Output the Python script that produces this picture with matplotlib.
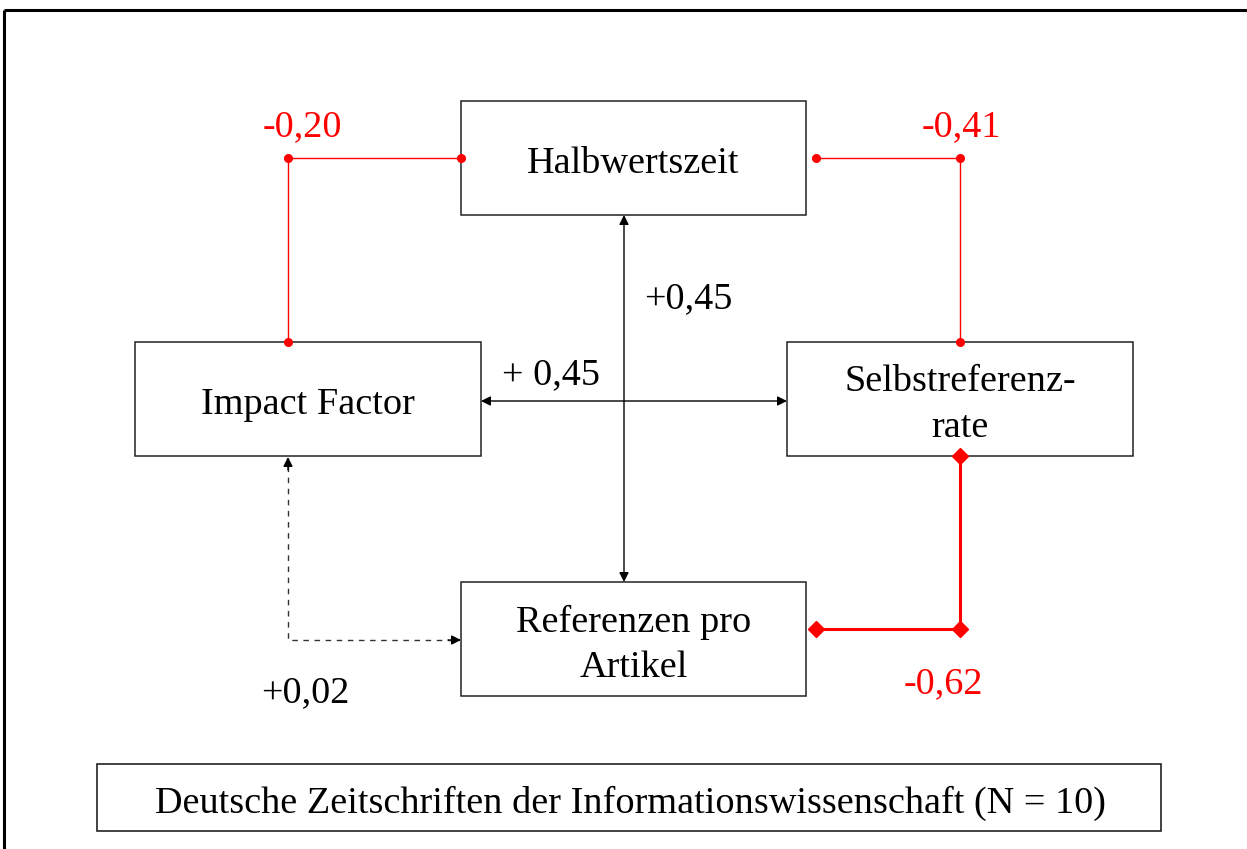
import matplotlib
matplotlib.use("Agg")
import matplotlib.pyplot as plt
from matplotlib.patches import Rectangle

# ---- data ----
nodes = ["Halbwertszeit", "Impact Factor", "Selbstreferenz-\nrate", "Referenzen pro\nArtikel"]
neg_labels = ["-0,20", "-0,41", "-0,62"]          # red (negative) correlations
pos_labels = ["+0,45", "+ 0,45", "+0,02"]         # black (positive) correlations
caption = "Deutsche Zeitschriften der Informationswissenschaft (N = 10)"

W, H = 1247, 849
fig = plt.figure(figsize=(W / 100, H / 100), dpi=100)
ax = fig.add_axes([0, 0, 1, 1])
ax.set_xlim(0, W)
ax.set_ylim(H, 0)
ax.axis("off")

FONT = "Liberation Serif"
FS = 27.5
RED = "#ff0000"
DY = 3  # small vertical text offset

# outer frame (top and left only)
ax.plot([4, W], [10, 10], color="black", lw=2.2, solid_capstyle="butt")
ax.plot([4, 4], [10, H], color="black", lw=2.2, solid_capstyle="butt")

# boxes: (x0, y0, x1, y1)
boxes = {
    nodes[0]: (461, 101, 806, 215),
    nodes[1]: (135, 342, 481, 456),
    nodes[2]: (787, 342, 1133, 456),
    nodes[3]: (461, 582, 806, 696),
}
for name, (x0, y0, x1, y1) in boxes.items():
    ax.add_patch(Rectangle((x0, y0), x1 - x0, y1 - y0, fill=False,
                           edgecolor="#222222", lw=1.1))
    ax.text((x0 + x1) / 2, (y0 + y1) / 2 + 3 + DY, name, ha="center", va="center",
            fontsize=FS, family=FONT, linespacing=1.42)

# caption box
ax.add_patch(Rectangle((97, 764), 1161 - 97, 831 - 764, fill=False,
                       edgecolor="#222222", lw=1.2))
ax.text(630, 800 + DY, caption, ha="center", va="center", fontsize=27.5, family=FONT)

# ---- red (negative) links ----
# Impact Factor - Halbwertszeit
ax.plot([461, 288, 288], [158, 158, 342], color=RED, lw=1.0)
ax.plot([288, 461, 288], [158, 158, 342], "o", color=RED, ms=5.5, ls="none")
# Halbwertszeit - Selbstreferenzrate
ax.plot([816, 960, 960], [158, 158, 342], color=RED, lw=1.0)
ax.plot([816, 960, 960], [158, 158, 342], "o", color=RED, ms=5.5, ls="none")
# Selbstreferenzrate - Referenzen pro Artikel
ax.plot([960, 960, 816], [456, 629, 629], color=RED, lw=2.2)
ax.plot([960, 960, 816], [456, 629, 629], "D", color=RED, ms=8.5, ls="none")

ax.text(302, 124 + DY, neg_labels[0], color=RED, ha="center", va="center", fontsize=FS, family=FONT)
ax.text(961, 124 + DY, neg_labels[1], color=RED, ha="center", va="center", fontsize=FS, family=FONT)
ax.text(943, 681 + DY, neg_labels[2], color=RED, ha="center", va="center", fontsize=FS, family=FONT)

# ---- black (positive) links ----
arrow_kw = dict(arrowstyle="<|-|>", color="black", lw=1.0,
                shrinkA=0, shrinkB=0, mutation_scale=14)
ax.annotate("", xy=(624, 582), xytext=(624, 215), arrowprops=arrow_kw)
ax.annotate("", xy=(787, 401), xytext=(481, 401), arrowprops=arrow_kw)

# dashed link Impact Factor - Referenzen pro Artikel
ax.plot([288, 288, 455], [466, 640, 640], color="#333333", lw=1.0,
        ls=(0, (4, 4)))
head_kw = dict(arrowstyle="-|>", color="black", lw=1.0,
               shrinkA=0, shrinkB=0, mutation_scale=14)
ax.annotate("", xy=(288, 457), xytext=(288, 470), arrowprops=head_kw)
ax.annotate("", xy=(461, 640), xytext=(448, 640), arrowprops=head_kw)

ax.text(688, 296 + DY, pos_labels[0], ha="center", va="center", fontsize=FS, family=FONT)
ax.text(551, 372 + DY, pos_labels[1], ha="center", va="center", fontsize=FS, family=FONT)
ax.text(305, 690 + DY, pos_labels[2], ha="center", va="center", fontsize=FS, family=FONT)

fig.savefig("out.png", dpi=100, facecolor="white")
